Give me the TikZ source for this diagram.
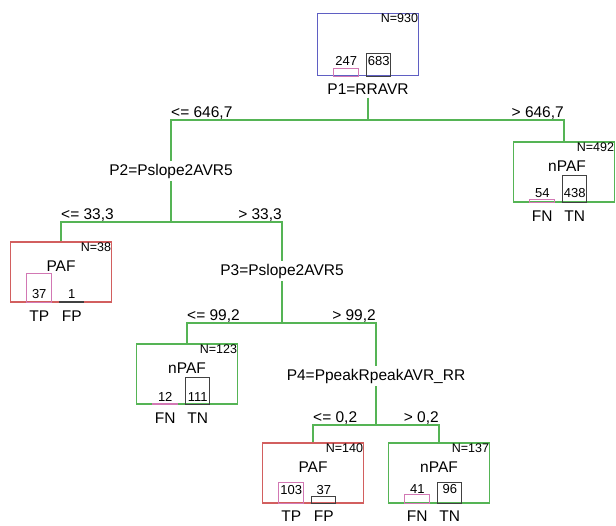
\documentclass[tikz,border=0pt]{standalone}
\usepackage{fontspec}
\setmainfont{Liberation Sans}
\usetikzlibrary{positioning}

\definecolor{rootblue}{RGB}{95,95,195}
\definecolor{splitgreen}{RGB}{85,180,85}
\definecolor{pafred}{RGB}{210,95,95}
\definecolor{barpink}{RGB}{210,120,180}
\definecolor{bargray}{RGB}{65,65,65}

\tikzset{
  edge/.style={splitgreen, line width=1.5pt},
  splitlab/.style={font=\fontsize{15.5}{18}\selectfont, inner sep=3pt},
  leftcond/.style={font=\fontsize{15.5}{18}\selectfont, anchor=base west, inner sep=0pt, yshift=3pt},
  rightcond/.style={font=\fontsize{15.5}{18}\selectfont, anchor=base east, inner sep=0pt, yshift=3pt},
  leafbox/.style={draw, line width=1.5pt, minimum width=101pt, minimum height=60pt, inner sep=0pt},
  ncount/.style={font=\fontsize{12.5}{14}\selectfont, anchor=north east, inner sep=1pt},
  classlab/.style={font=\fontsize{15.5}{18}\selectfont},
  barnum/.style={font=\fontsize{13}{15}\selectfont, inner sep=0pt},
  outcome/.style={font=\fontsize{15.5}{18}\selectfont, inner sep=0pt},
  pinkbar/.style={draw=barpink, line width=1pt},
  graybar/.style={draw=bargray, line width=1.2pt},
}

\begin{document}
\begin{tikzpicture}[x=1pt,y=-1pt]
\useasboundingbox (0,0) rectangle (616,525);

\node[leafbox, draw=rootblue, minimum height=62pt] (root) at (368,44.5) {};
\node[leafbox, draw=splitgreen] (r1) at (564,172) {};
\node[leafbox, draw=pafred] (l2) at (61,272) {};
\node[leafbox, draw=splitgreen] (m3) at (187,374) {};
\node[leafbox, draw=pafred] (a4) at (313,473) {};
\node[leafbox, draw=splitgreen] (b4) at (439,473) {};

\node[splitlab] (p1) at (368,89) {P1=RRAVR};
\node[splitlab] (p2) at (171,171) {P2=Pslope2AVR5};
\node[splitlab] (p3) at (282,271) {P3=Pslope2AVR5};
\node[splitlab] (p4) at (376,376) {P4=PpeakRpeakAVR\_RR};

\coordinate (j1) at (368,120);
\coordinate (j2) at (171,222);
\coordinate (j3) at (282,323);
\coordinate (j4) at (376,425);

\draw[edge] (p1.south) -- (j1);
\draw[edge] (p2.north) |- (j1) -| (r1.north);
\draw[edge] (p2.south) -- (j2);
\draw[edge] (l2.north) |- (j2) -| (p3.north);
\draw[edge] (p3.south) -- (j3);
\draw[edge] (m3.north) |- (j3) -| (p4.north);
\draw[edge] (p4.south) -- (j4);
\draw[edge] (a4.north) |- (j4) -| (b4.north);

\node[leftcond] at (p2.north |- j1) {<= 646,7};
\node[rightcond] at (r1.north |- j1) {> 646,7};
\node[leftcond] at (l2.north |- j2) {<= 33,3};
\node[rightcond] at (p3.north |- j2) {> 33,3};
\node[leftcond] at (m3.north |- j3) {<= 99,2};
\node[rightcond] at (p4.north |- j3) {> 99,2};
\node[leftcond] at (a4.north |- j4) {<= 0,2};
\node[rightcond] at (b4.north |- j4) {> 0,2};

\node[ncount] at (root.north east) {N=930};
\draw[pinkbar] ([xshift=17pt]root.south west) rectangle ++(25,-8);
\draw[graybar] ([xshift=50pt]root.south west) rectangle ++(24,-23);
\node[barnum] at ([xshift=29.5pt,yshift=15pt]root.south west) {247};
\node[barnum] at ([xshift=62pt,yshift=15pt]root.south west) {683};

\node[ncount] at (r1.north east) {N=492};
\node[classlab] at ([xshift=3pt,yshift=6pt]r1.center) {nPAF};
\draw[pinkbar] ([xshift=17pt]r1.south west) rectangle ++(25,-3);
\draw[graybar] ([xshift=50pt]r1.south west) rectangle ++(24,-27);
\node[barnum] at ([xshift=29.5pt,yshift=10pt]r1.south west) {54};
\node[barnum] at ([xshift=62pt,yshift=10pt]r1.south west) {438};
\node[outcome] at ([xshift=29.5pt,yshift=-13pt]r1.south west) {FN};
\node[outcome] at ([xshift=62pt,yshift=-13pt]r1.south west) {TN};

\node[ncount] at (l2.north east) {N=38};
\node[classlab] at ([yshift=6pt]l2.center) {PAF};
\draw[pinkbar] ([xshift=17pt]l2.south west) rectangle ++(25,-29);
\draw[graybar] ([xshift=50pt]l2.south west) rectangle ++(24,-1);
\node[barnum] at ([xshift=29.5pt,yshift=9pt]l2.south west) {37};
\node[barnum] at ([xshift=62pt,yshift=9pt]l2.south west) {1};
\node[outcome] at ([xshift=29.5pt,yshift=-13pt]l2.south west) {TP};
\node[outcome] at ([xshift=62pt,yshift=-13pt]l2.south west) {FP};

\node[ncount] at (m3.north east) {N=123};
\node[classlab] at ([yshift=6pt]m3.center) {nPAF};
\draw[pinkbar] ([xshift=17pt]m3.south west) rectangle ++(25,-1);
\draw[graybar] ([xshift=50pt]m3.south west) rectangle ++(24,-27);
\node[barnum] at ([xshift=29.5pt,yshift=8pt]m3.south west) {12};
\node[barnum] at ([xshift=62pt,yshift=8pt]m3.south west) {111};
\node[outcome] at ([xshift=29.5pt,yshift=-13pt]m3.south west) {FN};
\node[outcome] at ([xshift=62pt,yshift=-13pt]m3.south west) {TN};

\node[ncount] at (a4.north east) {N=140};
\node[classlab] at ([yshift=6pt]a4.center) {PAF};
\draw[pinkbar] ([xshift=17pt]a4.south west) rectangle ++(25,-21);
\draw[graybar] ([xshift=50pt]a4.south west) rectangle ++(24,-7);
\node[barnum] at ([xshift=29.5pt,yshift=14pt]a4.south west) {103};
\node[barnum] at ([xshift=62pt,yshift=14pt]a4.south west) {37};
\node[outcome] at ([xshift=29.5pt,yshift=-12pt]a4.south west) {TP};
\node[outcome] at ([xshift=62pt,yshift=-12pt]a4.south west) {FP};

\node[ncount] at (b4.north east) {N=137};
\node[classlab] at ([yshift=6pt]b4.center) {nPAF};
\draw[pinkbar] ([xshift=17pt]b4.south west) rectangle ++(25,-9);
\draw[graybar] ([xshift=50pt]b4.south west) rectangle ++(24,-21);
\node[barnum] at ([xshift=29.5pt,yshift=15pt]b4.south west) {41};
\node[barnum] at ([xshift=62pt,yshift=15pt]b4.south west) {96};
\node[outcome] at ([xshift=29.5pt,yshift=-12pt]b4.south west) {FN};
\node[outcome] at ([xshift=62pt,yshift=-12pt]b4.south west) {TN};
\end{tikzpicture}
\end{document}
